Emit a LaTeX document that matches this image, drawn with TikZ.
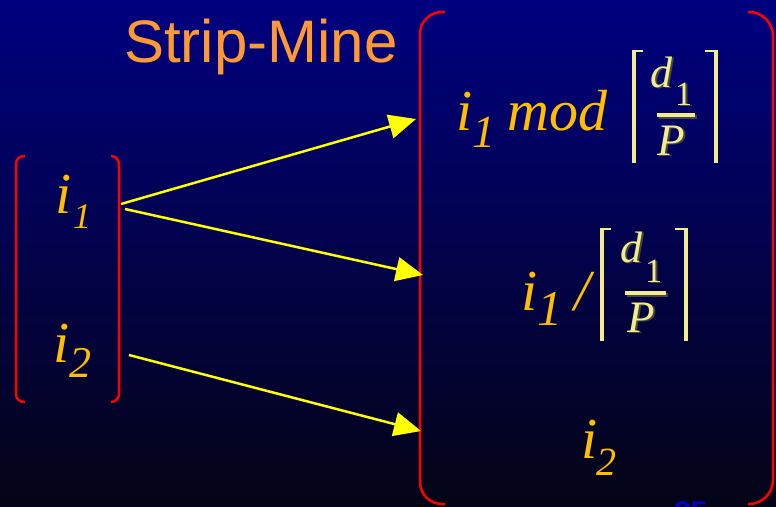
\documentclass[tikz,border=0pt]{standalone}
\usepackage{fontspec}
\setmainfont{Liberation Serif}
\newfontfamily\titlefont{Liberation Sans}
\usetikzlibrary{arrows.meta}
\definecolor{bgtop}{RGB}{0,0,128}
\definecolor{bgbot}{RGB}{4,4,22}
\definecolor{ired}{RGB}{255,0,0}
\definecolor{txt}{RGB}{255,190,0}
\definecolor{ttl}{RGB}{255,153,51}
\definecolor{frc}{RGB}{242,236,140}
\definecolor{frshadow}{RGB}{70,70,58}
\definecolor{arr}{RGB}{255,255,0}
\definecolor{pg}{RGB}{0,0,210}
\newcommand\shd[1]{\makebox[0pt][l]{\hspace{1.8pt}\raisebox{-1.8pt}{\textcolor{frshadow}{#1}}}#1}
\begin{document}
\begin{tikzpicture}[x=1pt,y=-1pt,
  var/.style={text=txt, inner sep=0pt, anchor=base west, font=\fontsize{58}{60}\selectfont\itshape},
  subA/.style={text=txt, inner sep=0pt, anchor=base west, font=\fontsize{#1}{#1}\selectfont\itshape},
  fr/.style={text=frc, inner sep=0pt, anchor=base west, font=\fontsize{#1}{#1}\selectfont\itshape},
  frup/.style={text=frc, inner sep=0pt, anchor=base west, font=\fontsize{#1}{#1}\selectfont},
  bracket/.style={draw=ired, line width=2.5pt, rounded corners=#1},
  ceilv/.style={draw=frc, line width=3.5pt},
  ceilt/.style={draw=frc, line width=2pt},
  fbar/.style={draw=frc, line width=4.5pt},
  arrow/.style={draw=arr, line width=2.5pt, -{Triangle[length=27pt,width=24pt]}}]
\useasboundingbox (0,0) rectangle (776,506);
\clip (0,0) rectangle (776,506);
\shade[top color=bgtop, bottom color=bgbot] (0,0) rectangle (776,506);

% title
\node[text=ttl, inner sep=0pt, anchor=base west, font=\titlefont\fontsize{60}{60}\selectfont] (title) at (124,62) {Strip-Mine};

% left bracket box
\draw[bracket=8pt] (25,156) -| (16,402) -- (25,402);
\draw[bracket=8pt] (111,156) -| (119,402) -- (111,402);

% right bracket box
\draw[bracket=22pt] (445,12) -| (420,504) -- (445,504);
\draw[bracket=24pt] (748,12) -| (773,504) -- (748,504);

% left variables
\node[var] (li1) at (55,213) {i};
\node[subA=36] (li1s) at (73,228) {1};
\node[var] (li2) at (53,362) {i};
\node[subA=44] (li2s) at (69,377) {2};

% expression 1
\node[var] (e1i) at (456,130) {i};
\node[subA=46] (e1s) at (472,147) {1};
\node[var] (e1m) at (507,130) {mod};
\draw[ceilv] (634,50) -- (634,163);
\draw[ceilt] (634,51) -- (643,51);
\draw[ceilv] (716,50) -- (716,163);
\draw[ceilt] (705,51) -- (716,51);
\node[fr=44] (f1d) at (650,87) {\shd{d}};
\node[frup=34] (f1s) at (675,105) {\shd{1}};
\draw[draw=frshadow, line width=4.5pt] (659,117) -- (697,117);
\draw[fbar] (657,115) -- (695,115);
\node[fr=45] (f1p) at (657,155) {\shd{P}};

% expression 2
\node[var] (e2i) at (521,310) {i};
\node[subA=50] (e2s) at (537,325) {1};
\node[var] (e2sl) at (574,310) {/};
\draw[ceilv] (602,228) -- (602,341);
\draw[ceilt] (602,229) -- (611,229);
\draw[ceilv] (686,228) -- (686,341);
\draw[ceilt] (675,229) -- (686,229);
\node[fr=44] (f2d) at (620,262) {\shd{d}};
\node[frup=34] (f2s) at (645,282) {\shd{1}};
\draw[draw=frshadow, line width=4.5pt] (627,295) -- (668,295);
\draw[fbar] (625,293) -- (666,293);
\node[fr=45] (f2p) at (627,332) {\shd{P}};

% right i2
\node[var] (ri2) at (581,458) {i};
\node[subA=40] (ri2s) at (596,475) {2};

% arrows
\coordinate (a1s) at (121,204);
\coordinate (a1e) at (416,119);
\coordinate (a2s) at (125,209);
\coordinate (a2e) at (423,275);
\coordinate (a3s) at (129,355);
\coordinate (a3e) at (421,431);
\draw[arrow] (a1s) -- (a1e);
\draw[arrow] (a2s) -- (a2e);
\draw[arrow] (a3s) -- (a3e);

% page number (cut off)
\node[text=pg, inner sep=0pt, anchor=base west, font=\titlefont\bfseries\fontsize{30}{30}\selectfont] (pgnum) at (674,522) {25};
\end{tikzpicture}
\end{document}
